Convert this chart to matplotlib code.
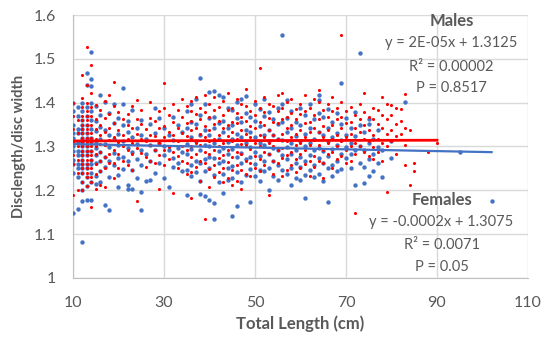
import numpy as np
import matplotlib
matplotlib.use("Agg")
import matplotlib.pyplot as plt

plt.rcParams['font.family'] = ['Lato', 'DejaVu Sans']

# disc length / disc width ratio, grouped by total length (cm)
females_by_length = {
    10: [1.40, 1.38, 1.35, 1.33, 1.32, 1.31, 1.30, 1.29, 1.27, 1.26, 1.24, 1.148],
    11: [1.39, 1.37, 1.34, 1.33, 1.31, 1.29, 1.28, 1.26, 1.25, 1.23, 1.158],
    12: [1.40, 1.38, 1.36, 1.35, 1.34, 1.33, 1.32, 1.31, 1.30, 1.29, 1.28, 1.27,
         1.26, 1.25, 1.24, 1.22, 1.20, 1.176, 1.081],
    13: [1.467, 1.44, 1.39, 1.37, 1.35, 1.33, 1.32, 1.30, 1.29, 1.28, 1.26, 1.25,
         1.23, 1.21, 1.178],
    14: [1.516, 1.453, 1.438, 1.40, 1.38, 1.36, 1.34, 1.32, 1.31, 1.29, 1.27,
         1.26, 1.24, 1.22, 1.178],
    15: [1.392, 1.358, 1.336, 1.307, 1.296, 1.281, 1.263, 1.232, 1.214],
    16: [1.418, 1.372, 1.344, 1.318, 1.287, 1.268, 1.243, 1.219],
    17: [1.402, 1.338, 1.306, 1.276, 1.253, 1.166],
    18: [1.377, 1.327, 1.298, 1.266, 1.231, 1.154],
    19: [1.398, 1.354, 1.316, 1.285, 1.258],
    20: [1.366, 1.328, 1.304, 1.273, 1.236, 1.207],
    21: [1.434, 1.396, 1.349, 1.312, 1.277, 1.248],
    22: [1.358, 1.334, 1.296, 1.266, 1.212, 1.204],
    23: [1.384, 1.322, 1.287, 1.246, 1.203],
    24: [1.343, 1.306, 1.272, 1.228],
    25: [1.361, 1.327, 1.291, 1.257, 1.197, 1.154],
    26: [1.318, 1.284, 1.221],
    27: [1.352, 1.303, 1.268, 1.224],
    28: [1.387, 1.331, 1.293, 1.239],
    29: [1.364, 1.309, 1.262],
    30: [1.342, 1.302, 1.281, 1.229],
    31: [1.327, 1.292, 1.207],
    32: [1.368, 1.314, 1.274, 1.253],
    33: [1.348, 1.297, 1.263],
    34: [1.334, 1.288, 1.244],
    35: [1.382, 1.343, 1.305, 1.284, 1.247, 1.189],
    36: [1.398, 1.357, 1.322, 1.294, 1.258, 1.233],
    37: [1.408, 1.351, 1.313, 1.268, 1.241],
    38: [1.456, 1.372, 1.326, 1.293, 1.262, 1.221, 1.192],
    39: [1.396, 1.338, 1.304, 1.271, 1.243, 1.186],
    40: [1.425, 1.364, 1.327, 1.302, 1.276, 1.252, 1.178],
    41: [1.427, 1.368, 1.343, 1.308, 1.273, 1.234, 1.172, 1.135],
    42: [1.418, 1.353, 1.316, 1.289, 1.262, 1.218],
    43: [1.412, 1.358, 1.332, 1.297, 1.267, 1.238, 1.193],
    44: [1.387, 1.342, 1.311, 1.283, 1.252, 1.224],
    45: [1.383, 1.349, 1.317, 1.294, 1.256, 1.228, 1.142],
    46: [1.402, 1.366, 1.328, 1.304, 1.277, 1.242, 1.165],
    47: [1.408, 1.357, 1.321, 1.286, 1.263, 1.219],
    48: [1.415, 1.376, 1.338, 1.309, 1.272, 1.236],
    49: [1.368, 1.334, 1.298, 1.276, 1.248, 1.174],
    50: [1.397, 1.358, 1.322, 1.287, 1.259, 1.232],
    51: [1.386, 1.347, 1.307, 1.279, 1.246, 1.221],
    52: [1.409, 1.369, 1.327, 1.303, 1.268, 1.243],
    53: [1.378, 1.338, 1.312, 1.283, 1.252, 1.201],
    54: [1.362, 1.327, 1.296, 1.268, 1.232],
    55: [1.388, 1.352, 1.318, 1.292, 1.257, 1.223],
    56: [1.554, 1.398, 1.357, 1.314, 1.281, 1.247],
    57: [1.406, 1.366, 1.332, 1.298, 1.272, 1.238],
    58: [1.382, 1.343, 1.307, 1.284, 1.251, 1.212],
    59: [1.357, 1.323, 1.293, 1.262, 1.228],
    60: [1.387, 1.348, 1.313, 1.277, 1.253, 1.224],
    61: [1.371, 1.328, 1.302, 1.268, 1.236, 1.182],
    62: [1.398, 1.342, 1.308, 1.281, 1.247],
    63: [1.362, 1.318, 1.292, 1.258, 1.231],
    64: [1.418, 1.406, 1.377, 1.334, 1.297, 1.273, 1.238],
    65: [1.368, 1.327, 1.289, 1.262, 1.222],
    66: [1.386, 1.343, 1.312, 1.278, 1.252, 1.173],
    67: [1.357, 1.322, 1.294, 1.257, 1.232],
    68: [1.377, 1.331, 1.303, 1.268, 1.243],
    69: [1.446, 1.352, 1.314, 1.282, 1.248],
    70: [1.366, 1.327, 1.298, 1.273],
    71: [1.342, 1.307, 1.284, 1.252],
    72: [1.378, 1.323, 1.291, 1.212],
    73: [1.514, 1.348, 1.302, 1.262],
    74: [1.334, 1.292, 1.253, 1.217],
    75: [1.362, 1.351, 1.307, 1.271, 1.232],
    76: [1.318, 1.283, 1.245],
    77: [1.337, 1.298, 1.262],
    78: [1.293, 1.231],
    80: [1.312, 1.273],
    83: [1.402],
    95: [1.287],
    102: [1.176],
}

males_by_length = {
    10: [1.40, 1.37, 1.34, 1.31, 1.28, 1.26, 1.189],
    11: [1.36, 1.33, 1.30, 1.27, 1.24, 1.20],
    12: [1.462, 1.41, 1.39, 1.37, 1.36, 1.35, 1.34, 1.33, 1.32, 1.31, 1.30, 1.29,
         1.28, 1.27, 1.26, 1.25, 1.24, 1.22, 1.20],
    13: [1.526, 1.44, 1.40, 1.38, 1.37, 1.36, 1.35, 1.34, 1.33, 1.32, 1.31, 1.30,
         1.29, 1.28, 1.27, 1.26, 1.25, 1.24, 1.23, 1.21],
    14: [1.485, 1.423, 1.39, 1.37, 1.35, 1.33, 1.32, 1.31, 1.30, 1.29, 1.28, 1.27,
         1.25, 1.23, 1.22, 1.163],
    15: [1.394, 1.362, 1.341, 1.318, 1.302, 1.283, 1.259, 1.238, 1.204],
    16: [1.383, 1.348, 1.327, 1.306, 1.287, 1.268, 1.243, 1.212],
    17: [1.404, 1.364, 1.332, 1.303, 1.277, 1.251, 1.207],
    18: [1.418, 1.373, 1.342, 1.314, 1.283, 1.262],
    19: [1.447, 1.392, 1.353, 1.322, 1.291, 1.263, 1.228],
    20: [1.378, 1.338, 1.311, 1.284, 1.252],
    21: [1.362, 1.327, 1.302, 1.268],
    22: [1.373, 1.348, 1.317, 1.293, 1.258],
    23: [1.392, 1.343, 1.308, 1.282, 1.247],
    24: [1.407, 1.362, 1.328, 1.297, 1.176],
    25: [1.383, 1.352, 1.318, 1.286],
    26: [1.341, 1.312, 1.277, 1.253],
    27: [1.402, 1.366, 1.327, 1.304, 1.268],
    28: [1.358, 1.323, 1.292, 1.262],
    29: [1.382, 1.342, 1.308, 1.281, 1.202],
    30: [1.444, 1.388, 1.347, 1.321, 1.293, 1.257],
    31: [1.372, 1.334, 1.298, 1.272],
    32: [1.398, 1.357, 1.326, 1.287, 1.195],
    33: [1.384, 1.343, 1.312, 1.278, 1.251],
    34: [1.408, 1.368, 1.331, 1.302, 1.266],
    35: [1.392, 1.354, 1.323, 1.291, 1.263, 1.238],
    36: [1.403, 1.382, 1.358, 1.337, 1.318, 1.302, 1.277, 1.242, 1.183],
    37: [1.412, 1.373, 1.342, 1.308, 1.282, 1.253],
    38: [1.387, 1.362, 1.328, 1.304, 1.268, 1.222],
    39: [1.418, 1.378, 1.347, 1.321, 1.287, 1.262, 1.135],
    40: [1.398, 1.367, 1.338, 1.312, 1.283, 1.248, 1.208],
    41: [1.413, 1.384, 1.352, 1.318, 1.292, 1.257, 1.231],
    42: [1.391, 1.358, 1.327, 1.302, 1.273, 1.242],
    43: [1.404, 1.372, 1.343, 1.307, 1.281, 1.252, 1.218],
    44: [1.422, 1.383, 1.348, 1.324, 1.293, 1.264, 1.228],
    45: [1.388, 1.357, 1.334, 1.312, 1.277, 1.246, 1.212],
    46: [1.409, 1.377, 1.353, 1.318, 1.287, 1.258, 1.222],
    47: [1.397, 1.368, 1.337, 1.306, 1.283, 1.247, 1.203],
    48: [1.432, 1.392, 1.358, 1.328, 1.304, 1.268, 1.238],
    49: [1.382, 1.347, 1.322, 1.294, 1.262, 1.233],
    50: [1.403, 1.372, 1.343, 1.307, 1.279, 1.252],
    51: [1.478, 1.388, 1.357, 1.327, 1.302, 1.272, 1.243],
    52: [1.412, 1.378, 1.348, 1.321, 1.288, 1.257],
    53: [1.397, 1.366, 1.338, 1.308, 1.284, 1.190],
    54: [1.392, 1.357, 1.327, 1.302, 1.268, 1.238],
    55: [1.418, 1.382, 1.353, 1.318, 1.292, 1.263],
    56: [1.421, 1.387, 1.362, 1.328, 1.297, 1.274, 1.232],
    57: [1.402, 1.368, 1.342, 1.312, 1.281, 1.247],
    58: [1.408, 1.377, 1.348, 1.322, 1.287, 1.258],
    59: [1.386, 1.362, 1.328, 1.304, 1.272, 1.241],
    60: [1.397, 1.373, 1.338, 1.307, 1.283, 1.252],
    61: [1.417, 1.382, 1.353, 1.321, 1.292, 1.261],
    62: [1.388, 1.357, 1.332, 1.303, 1.268, 1.232],
    63: [1.408, 1.372, 1.343, 1.314, 1.278, 1.253],
    64: [1.429, 1.402, 1.362, 1.332, 1.303, 1.268],
    65: [1.383, 1.347, 1.322, 1.293, 1.262, 1.228],
    66: [1.398, 1.368, 1.337, 1.308, 1.282],
    67: [1.412, 1.382, 1.348, 1.318, 1.287, 1.252],
    68: [1.388, 1.362, 1.327, 1.302, 1.272],
    69: [1.554, 1.402, 1.368, 1.342, 1.312, 1.278],
    70: [1.382, 1.353, 1.322, 1.292, 1.262],
    71: [1.391, 1.357, 1.328, 1.302, 1.268],
    72: [1.372, 1.343, 1.308, 1.283, 1.148],
    73: [1.398, 1.362, 1.333, 1.302],
    74: [1.421, 1.378, 1.348, 1.318, 1.288],
    75: [1.368, 1.338, 1.312, 1.278],
    76: [1.388, 1.362, 1.327, 1.298, 1.272],
    77: [1.383, 1.352, 1.318, 1.287],
    78: [1.414, 1.372, 1.343, 1.308, 1.268],
    79: [1.398, 1.363, 1.328, 1.302, 1.197],
    80: [1.395, 1.372, 1.338, 1.312],
    81: [1.387, 1.352, 1.323, 1.283],
    82: [1.385, 1.358, 1.328],
    83: [1.419, 1.342, 1.303, 1.258],
    84: [1.338, 1.213],
    85: [1.262, 1.244],
    88: [1.288],
    90: [1.309],
}

# trendlines (slope, intercept) and x range, as printed on the chart
males_fit = [2e-05, 1.3125]
females_fit = [-0.0002, 1.3075]
males_range = [10, 90]
females_range = [10, 102]

males_text = ['y = 2E-05x + 1.3125', 'R² = 0.00002', 'P = 0.8517']
females_text = ['y = -0.0002x + 1.3075', 'R² = 0.0071', 'P = 0.05']


def flatten(groups):
    xs, ys = [], []
    for tl, vals in groups.items():
        xs += [tl] * len(vals)
        ys += vals
    return np.array(xs), np.array(ys)


fx, fy = flatten(females_by_length)
mx, my = flatten(males_by_length)

blue = '#4472C4'
red = '#FF0000'
grey = '#595959'

fig = plt.figure(figsize=(5.5, 3.41), dpi=100)
ax = fig.add_axes([0.1327, 0.1848, 0.8273, 0.7712])

ax.scatter(fx, fy, s=10, color=blue, linewidths=0, zorder=3)
ax.scatter(mx, my, s=5, color=red, linewidths=0, zorder=3)

xl = np.array(females_range)
ax.plot(xl, females_fit[0] * xl + females_fit[1], color=blue, lw=1.6, zorder=4)
xl = np.array(males_range)
ax.plot(xl, males_fit[0] * xl + males_fit[1], color=red, lw=2.0, zorder=4)

ax.set_xlim(10, 110)
ax.set_ylim(1, 1.6)
ax.set_xticks(range(10, 111, 20))
ax.set_yticks(np.arange(1, 1.61, 0.1))
ax.set_yticklabels(['1', '1.1', '1.2', '1.3', '1.4', '1.5', '1.6'])
ax.grid(True, color='#D9D9D9', lw=1)
ax.set_axisbelow(True)
for s in ['top', 'right']:
    ax.spines[s].set_visible(False)
for s in ['left', 'bottom']:
    ax.spines[s].set_color('#BFBFBF')
ax.tick_params(length=0, labelsize=11.5, colors=grey)
ax.tick_params(axis='x', pad=13)
ax.tick_params(axis='y', pad=12)

ax.set_xlabel('Total Length (cm)', fontsize=12, fontweight='bold', color=grey, labelpad=4)
ax.set_ylabel('Disclength/disc width', fontsize=10.5, fontweight='bold', color=grey, labelpad=6)

tk = dict(ha='center', va='center', fontsize=10.5, color=grey)
ax.text(93.2, 1.586, 'Males', fontweight='bold', **dict(tk, fontsize=12))
for t, yy in zip(males_text, [1.536, 1.481, 1.433]):
    ax.text(93.2, yy, t, **tk)
ax.text(91.0, 1.178, 'Females', fontweight='bold', **dict(tk, fontsize=12))
for t, yy in zip(females_text, [1.128, 1.075, 1.025]):
    ax.text(91.0, yy, t, **tk)

fig.savefig('out.png', dpi=100)
